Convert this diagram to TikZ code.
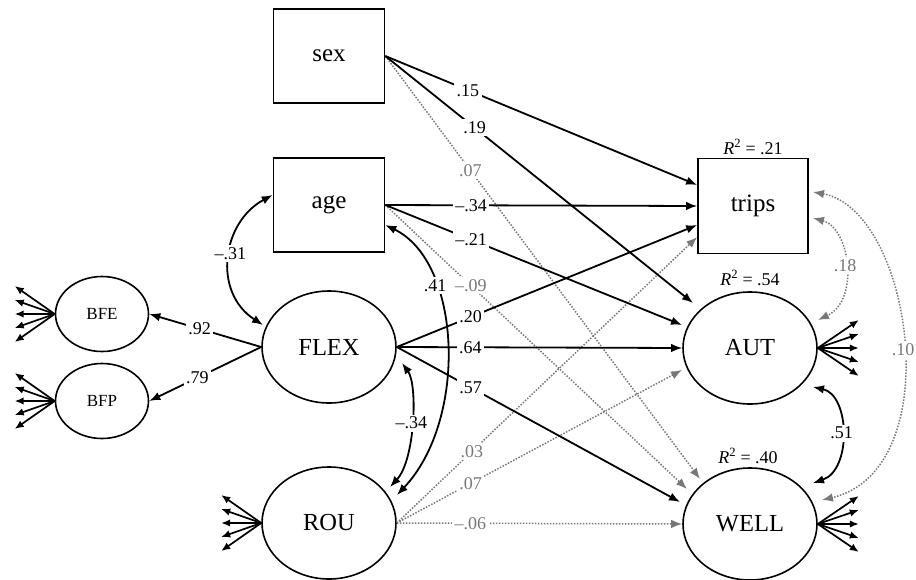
\documentclass[tikz,border=0pt]{standalone}
\usepackage{fontspec}
\setmainfont{Liberation Serif}
\usetikzlibrary{arrows.meta,shapes.geometric}
\definecolor{nsgray}{gray}{0.47}
\begin{document}
\begin{tikzpicture}[x=1pt,y=-1pt,
  box/.style={draw,line width=1.6pt,minimum width=111pt,minimum height=94pt,inner sep=0pt,font=\fontsize{25}{25}\selectfont},
  lat/.style={draw,ellipse,line width=1.6pt,minimum width=134pt,minimum height=112pt,inner sep=0pt,font=\fontsize{24.5}{25}\selectfont},
  indic/.style={draw,ellipse,line width=1.6pt,minimum width=93pt,minimum height=75pt,inner sep=0pt,font=\fontsize{17}{17}\selectfont},
  reg/.style={line width=1.8pt,-{Latex[length=11pt,width=8.5pt]}},
  nsreg/.style={nsgray,line width=1.5pt,dash pattern=on 1.5pt off 1.5pt,-{Latex[length=11pt,width=8.5pt]}},
  covar/.style={line width=1.8pt,{Latex[length=11pt,width=8.5pt]}-{Latex[length=11pt,width=8.5pt]}},
  nscovar/.style={nsgray,line width=1.5pt,dash pattern=on 1.5pt off 1.5pt,{Latex[length=11pt,width=8.5pt]}-{Latex[length=11pt,width=8.5pt]}},
  fanarrow/.style={line width=1.7pt,-{Latex[length=9pt,width=7.5pt]}},
  coef/.style={fill=white,inner sep=2.5pt,font=\fontsize{18}{18}\selectfont},
  nscoef/.style={coef,text=nsgray},
  rsq/.style={inner sep=0pt,font=\fontsize{18}{18}\selectfont}
]
\useasboundingbox (0,0) rectangle (916,579);

% observed variables
\node[box] (sex) at (329,56) {sex};
\node[box] (age) at (329,205) {age};
\node[box,minimum width=110pt,minimum height=95pt] (trips) at (753,206) {trips};
% latent variables
\node[lat] (FLEX) at (329,347) {FLEX};
\node[lat] (ROU) at (329,523) {ROU};
\node[lat] (AUT) at (750,348) {AUT};
\node[lat] (WELL) at (750,524) {WELL};
\node[indic] (BFE) at (102,314) {BFE};
\node[indic] (BFP) at (102,401) {BFP};

% R squared
\node[rsq] (r2trips) at (753,147) {\textit{R}\textsuperscript{2} = .21};
\node[rsq] (r2aut) at (750,278) {\textit{R}\textsuperscript{2} = .54};
\node[rsq] (r2well) at (748,456) {\textit{R}\textsuperscript{2} = .40};

% indicator fans
\foreach \d in {-28,-14,0,14,28} {
  \draw[fanarrow] (BFE.west) -- ++(-40,\d);
  \draw[fanarrow] (BFP.west) -- ++(-40,\d);
  \draw[fanarrow] (ROU.west) -- ++(-40,\d);
  \draw[fanarrow] (AUT.east) -- ++(41,\d);
  \draw[fanarrow] (WELL.east) -- ++(41,\d);
}

% FLEX loadings on BFE, BFP
\draw[reg] (FLEX.west) -- node[coef,pos=0.55]{.92} (BFE.east);
\draw[reg] (FLEX.west) -- node[coef,pos=0.57]{.79} (BFP.east);

% non-significant paths (dotted)
\draw[nsreg] (sex.east) -- node[nscoef,pos=0.27]{.07} ([shift={(-50,-45)}]WELL.center);
\draw[nsreg] (age.east) -- node[nscoef,pos=0.284]{\textendash.09} ([shift={(-63,-35)}]WELL.center);
\draw[nsreg] (ROU.east) -- node[nscoef,pos=0.25]{.03} ([shift={(0,31)}]trips.west);
\draw[nsreg] (ROU.east) -- node[nscoef,pos=0.259]{.07} ([shift={(-68,22)}]AUT.center);
\draw[nsreg] (ROU.east) -- node[nscoef,pos=0.258]{\textendash.06} (WELL.west);

% significant paths
\draw[reg] (sex.east) -- node[coef,pos=0.265]{.15} ([shift={(0,-21)}]trips.west);
\draw[reg] (sex.east) -- node[coef,pos=0.29]{.19} ([shift={(-57,-45)}]AUT.center);
\draw[reg] (age.east) -- node[coef,pos=0.275]{\textendash.34} (trips.west);
\draw[reg] (age.east) -- node[coef,pos=0.289]{\textendash.21} ([shift={(-68,-23)}]AUT.center);
\draw[reg] (FLEX.east) -- node[coef,pos=0.246]{.20} ([shift={(0,19)}]trips.west);
\draw[reg] (FLEX.east) -- node[coef,pos=0.258]{.64} (AUT.west);
\draw[reg] (FLEX.east) -- node[coef,pos=0.261]{.57} ([shift={(-70,-22)}]WELL.center);

% covariances
\draw[covar] ([shift={(0,-10)}]age.west) .. controls (222,222) and (212,292) .. ([shift={(-66,-22)}]FLEX.center) node[coef,pos=0.47]{\textendash.31};
\draw[covar] ([shift={(0,20)}]age.east) .. controls (462,262) and (468,420) .. ([shift={(68,-28)}]ROU.center) node[coef,pos=0.3]{.41};
\draw[covar] ([shift={(73,16)}]FLEX.center) .. controls (418,385) and (415,460) .. ([shift={(61,-36)}]ROU.center) node[coef,pos=0.5]{\textendash.34};
\draw[covar] ([shift={(63,39)}]AUT.center) .. controls (850,395) and (852,470) .. ([shift={(63,-41)}]WELL.center) node[coef,pos=0.5]{.51};
\draw[nscovar] ([shift={(60,12)}]trips.center) .. controls (850,228) and (860,300) .. ([shift={(68,-28)}]AUT.center) node[nscoef,pos=0.5]{.18};
\draw[nscovar] ([shift={(60,-14)}]trips.center) .. controls (912,210) and (950,470) .. ([shift={(72,-24)}]WELL.center) node[nscoef,pos=0.52]{.10};
\end{tikzpicture}
\end{document}
